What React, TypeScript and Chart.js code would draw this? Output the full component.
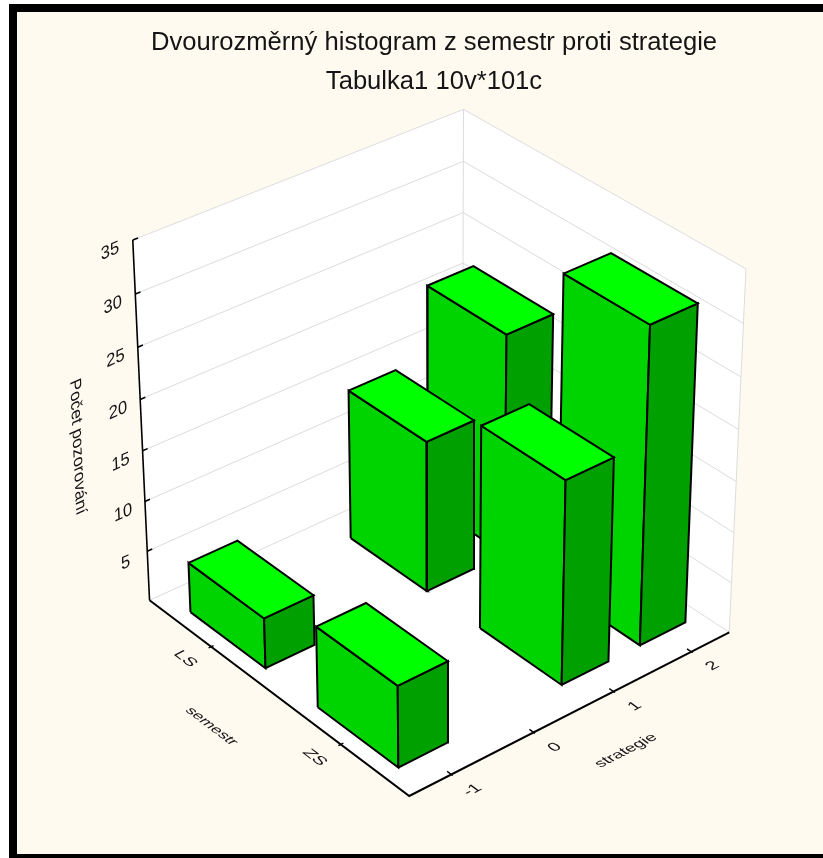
import React, { useEffect, useRef } from "react";
import { Chart, registerables } from "chart.js";

Chart.register(...registerables);

const titleLines = ["Dvourozměrný histogram z semestr proti strategie", "Tabulka1 10v*101c"];
const semestr = ["LS", "ZS"];
const strategie = [-1, 0, 1, 2];
const countsLS = [5, 0, 15, 22];
const countsZS = [8, 0, 20, 31];
const zTicks = [5, 10, 15, 20, 25, 30, 35];
const zGrid = [0, 5, 10, 15, 20, 25, 30, 35];
const zTitle = "Počet pozorování";
const xTitle = "strategie";
const yTitle = "semestr";

const uMin = -1.5, uMax = 2.5, vMin = -0.5, vMax = 1.5, zMax = 35;
const uLow = 0.31, uHigh = 0.285, vLow = 0.293, vHigh = 0.305;

// view calibration: [strategy, semester, count] -> picture position
const viewAnchors: number[][] = [
  [uMin, vMin, 0, 149.5, 600], [uMin, vMin, 5, 147, 552], [uMin, vMin, 20, 141, 399], [uMin, vMin, 35, 132.5, 240],
  [uMin, vMax, 0, 409, 796],
  [uMax, vMax, 0, 729.5, 632], [uMax, vMax, 25, 741, 377], [uMax, vMax, 35, 746, 269],
  [uMax, vMin, 20, 463, 263], [uMax, vMin, 25, 463, 213], [uMax, vMin, 35, 463.5, 109],
];

function solve(A: number[][], b: number[]) {
  const n = b.length;
  const M = A.map((r, i) => [...r, b[i]]);
  for (let c = 0; c < n; c++) {
    let p = c;
    for (let r = c + 1; r < n; r++) if (Math.abs(M[r][c]) > Math.abs(M[p][c])) p = r;
    [M[c], M[p]] = [M[p], M[c]];
    for (let r = 0; r < n; r++) {
      if (r === c) continue;
      const f = M[r][c] / M[c][c];
      for (let k = c; k <= n; k++) M[r][k] -= f * M[c][k];
    }
  }
  return M.map((r, i) => r[n] / r[i]);
}

const nu = (u: number) => (u - uMin) / (uMax - uMin);
const nv = (v: number) => (v - vMin) / (vMax - vMin);
const nz = (z: number) => z / zMax;

function fitCamera() {
  const rows: number[][] = [];
  const rhs: number[] = [];
  for (const [u, v, z, x, y] of viewAnchors) {
    const X = nu(u), Y = nv(v), Z = nz(z), px = x / 1000, py = y / 1000;
    rows.push([X, Y, Z, 1, 0, 0, 0, 0, -px * X, -px * Y, -px * Z]); rhs.push(px);
    rows.push([0, 0, 0, 0, X, Y, Z, 1, -py * X, -py * Y, -py * Z]); rhs.push(py);
  }
  const N = Array.from({ length: 11 }, () => new Array(11).fill(0));
  const t = new Array(11).fill(0);
  rows.forEach((r, i) => {
    for (let a = 0; a < 11; a++) {
      t[a] += r[a] * rhs[i];
      for (let b = 0; b < 11; b++) N[a][b] += r[a] * r[b];
    }
  });
  return solve(N, t);
}
const cam = fitCamera();
function P(u: number, v: number, z: number) {
  const X = nu(u), Y = nv(v), Z = nz(z);
  const w = cam[8] * X + cam[9] * Y + cam[10] * Z + 1;
  return {
    x: (1000 * (cam[0] * X + cam[1] * Y + cam[2] * Z + cam[3])) / w,
    y: (1000 * (cam[4] * X + cam[5] * Y + cam[6] * Z + cam[7])) / w,
  };
}

const GRID = "#dcdcdc";
const TOP = "#00ff00", LEFT = "#00d400", RIGHT = "#00a000";
const INK = "#141414";

function path(pts: number[][], color: string, width: number, fillColor?: string) {
  return {
    data: pts.map(([u, v, z]) => P(u, v, z)),
    showLine: true, fill: false, tension: 0, pointRadius: 0, pointHoverRadius: 0,
    borderColor: color, borderWidth: width, clip: false as const, faceFill: fillColor,
  };
}

function buildDatasets() {
  const out: any[] = [];
  const none = "rgba(0,0,0,0)";
  out.push(path([[uMin, vMin, 0], [uMax, vMin, 0], [uMax, vMin, zMax], [uMin, vMin, zMax], [uMin, vMin, 0]], none, 0, "#ffffff"));
  out.push(path([[uMax, vMin, 0], [uMax, vMax, 0], [uMax, vMax, zMax], [uMax, vMin, zMax], [uMax, vMin, 0]], none, 0, "#ffffff"));
  out.push(path([[uMin, vMin, 0], [uMin, vMax, 0], [uMax, vMax, 0], [uMax, vMin, 0], [uMin, vMin, 0]], none, 0, "#ffffff"));
  for (const z of zGrid) out.push(path([[uMin, vMin, z], [uMax, vMin, z], [uMax, vMax, z]], GRID, 1));
  out.push(path([[uMax, vMin, 0], [uMax, vMin, zMax]], GRID, 1));
  out.push(path([[uMax, vMax, 0], [uMax, vMax, zMax]], GRID, 1));
  out.push(path([[uMin, vMin, 0], [uMin, vMin, zMax]], "#000", 1.6));
  out.push(path([[uMin, vMin, 0], [uMin, vMax, 0], [uMax, vMax, 0]], "#000", 2));
  for (const z of zTicks) out.push(path([[uMin, vMin, z], [uMin + 0.06, vMin, z]], "#000", 1.6));
  semestr.forEach((_, j) => out.push(path([[uMin - 0.03, j, 0], [uMin + 0.03, j, 0]], "#000", 1.4)));
  strategie.forEach((s) => out.push(path([[s, vMax - 0.03, 0], [s, vMax + 0.01, 0]], "#000", 1.4)));

  const order = [[0, 3], [1, 3], [0, 2], [1, 2], [0, 0], [1, 0]];
  for (const [j, i] of order) {
    const h = (j === 0 ? countsLS : countsZS)[i];
    if (!h) continue;
    const s = strategie[i];
    const u0 = s - uLow, u1 = s + uHigh, v0 = j - vLow, v1 = j + vHigh;
    out.push(path([[u0, v0, 0], [u0, v1, 0], [u0, v1, h], [u0, v0, h], [u0, v0, 0]], "#000", 2, LEFT));
    out.push(path([[u0, v1, 0], [u1, v1, 0], [u1, v1, h], [u0, v1, h], [u0, v1, 0]], "#000", 2, RIGHT));
    out.push(path([[u0, v0, h], [u0, v1, h], [u1, v1, h], [u1, v0, h], [u0, v0, h]], "#000", 2, TOP));
  }
  return out.reverse();
}

function unit(a: { x: number; y: number }, b: { x: number; y: number }, k = 1) {
  const dx = b.x - a.x, dy = b.y - a.y, l = Math.hypot(dx, dy);
  return { x: (k * dx) / l, y: (k * dy) / l };
}

const facePlugin = {
  id: "faceFill",
  beforeDatasetDraw(chart: any, args: any) {
    const color = chart.data.datasets[args.index].faceFill;
    if (!color) return;
    const ctx = chart.ctx;
    const pts = args.meta.data;
    ctx.save();
    ctx.beginPath();
    pts.forEach((p: any, i: number) => (i ? ctx.lineTo(p.x, p.y) : ctx.moveTo(p.x, p.y)));
    ctx.closePath();
    ctx.fillStyle = color;
    ctx.fill();
    ctx.restore();
  },
};

const labelPlugin = {
  id: "axisLabels",
  afterDraw(chart: any) {
    const ctx = chart.ctx;
    const xs = chart.scales.x, ys = chart.scales.y;
    const put = (text: string, at: { x: number; y: number }, base: any, up: any, size: number) => {
      ctx.save();
      ctx.setTransform(base.x, base.y, -up.x, -up.y, xs.getPixelForValue(at.x), ys.getPixelForValue(at.y));
      ctx.font = `${size}px "Liberation Sans"`;
      ctx.fillStyle = INK;
      ctx.textAlign = "center";
      ctx.textBaseline = "middle";
      ctx.fillText(text, 0, 0);
      ctx.restore();
    };
    const wall = unit(P(uMin, vMin, 10), P(uMax, vMin, 10));
    const vert = unit(P(uMin, vMin, 0), P(uMin, vMin, 35));
    const alongV = unit(P(uMin, vMin, 0), P(uMin, vMax, 0));
    const alongU = unit(P(uMin, vMax, 0), P(uMax, vMax, 0));
    const backV = { x: -alongV.x * 0.85, y: -alongV.y * 0.85 };
    const fwdU = { x: alongU.x * 0.85, y: alongU.y * 0.85 };

    zTicks.forEach((z) => put(String(z), P(uMin - 0.26, vMin, z - 0.2), wall, vert, 18));
    semestr.forEach((s, j) => put(s, P(uMin - 0.31, j, 0), alongV, fwdU, 18));
    strategie.forEach((s) => put(String(s), P(s, vMax + 0.15, 0), alongU, backV, 18));
    put(yTitle, P(uMin - 0.76, 0.506, 0), alongV, fwdU, 16.5);
    put(xTitle, P(0.475, vMax + 0.378, 0), alongU, backV, 17);
    const down = { x: -vert.x, y: -vert.y };
    put(zTitle, P(uMin - 0.74, vMin, 18), { x: down.x * 1.02, y: down.y * 1.02 }, wall, 17);
  },
};

export default function App() {
  const ref = useRef<HTMLCanvasElement>(null);
  useEffect(() => {
    const chart = new Chart(ref.current!, {
      type: "scatter",
      data: { datasets: buildDatasets() },
      options: {
        animation: false,
        responsive: false,
        devicePixelRatio: 1,
        layout: { padding: 0 },
        events: [],
        plugins: {
          legend: { display: false },
          tooltip: { enabled: false },
          title: {
            display: true,
            text: titleLines,
            color: INK,
            font: { family: '"Liberation Sans"', size: 25.6, weight: "normal", lineHeight: 39 / 25.6 },
            padding: { top: 23, bottom: 0.5 },
          },
        },
        scales: {
          x: { type: "linear", display: false, min: 0, max: 868 },
          y: { type: "linear", display: false, min: 101.5, max: 858, reverse: true },
        },
      },
      plugins: [facePlugin, labelPlugin],
    } as any);
    return () => chart.destroy();
  }, []);
  return (
    <div style={{ position: "fixed", left: 0, top: 0, width: 823, height: 858, overflow: "hidden", background: "#fff" }}>
      <div style={{ position: "absolute", left: 9, top: 4, width: 850, height: 858, boxSizing: "border-box", border: "8px solid #000", background: "#fffaf0" }} />
      <canvas ref={ref} width={868} height={858} style={{ position: "absolute", left: 0, top: 0, width: 868, height: 858 }} />
    </div>
  );
}
